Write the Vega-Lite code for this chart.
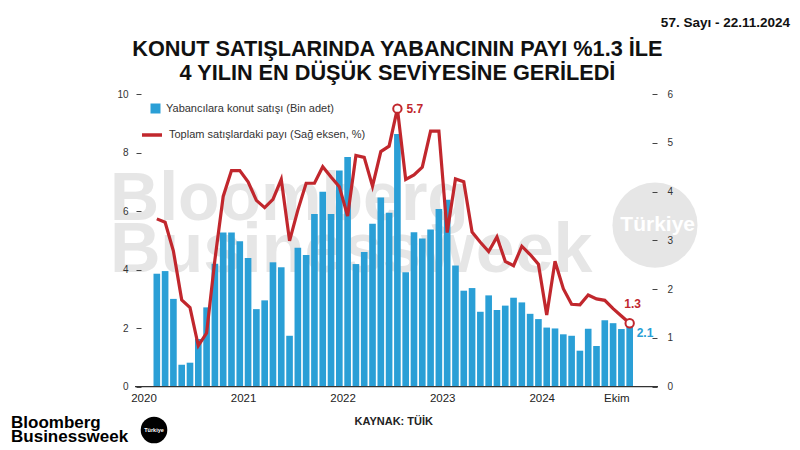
{
  "$schema": "https://vega.github.io/schema/vega-lite/v6.json",
  "width": 511,
  "height": 292.7,
  "autosize": {"type": "none"},
  "padding": {"left": 141, "top": 94, "right": 148, "bottom": 63.3},
  "background": "white",
  "config": {"view": {"stroke": null}, "font": "Liberation Sans"},
  "data": {"values": [
    {"m": "2020-01", "v": 3.86, "s": 3.44},
    {"m": "2020-02", "v": 3.95, "s": 3.37},
    {"m": "2020-03", "v": 3.0, "s": 2.78},
    {"m": "2020-04", "v": 0.75, "s": 1.78},
    {"m": "2020-05", "v": 0.82, "s": 1.62},
    {"m": "2020-06", "v": 1.63, "s": 0.84},
    {"m": "2020-07", "v": 2.71, "s": 1.1},
    {"m": "2020-08", "v": 4.2, "s": 2.6},
    {"m": "2020-09", "v": 5.27, "s": 3.9},
    {"m": "2020-10", "v": 5.27, "s": 4.43},
    {"m": "2020-11", "v": 4.97, "s": 4.43},
    {"m": "2020-12", "v": 4.4, "s": 4.2},
    {"m": "2021-01", "v": 2.65, "s": 3.82},
    {"m": "2021-02", "v": 2.95, "s": 3.67},
    {"m": "2021-03", "v": 4.25, "s": 3.84},
    {"m": "2021-04", "v": 4.08, "s": 4.25},
    {"m": "2021-05", "v": 1.74, "s": 2.99},
    {"m": "2021-06", "v": 4.75, "s": 3.62},
    {"m": "2021-07", "v": 4.5, "s": 4.17},
    {"m": "2021-08", "v": 5.9, "s": 4.17},
    {"m": "2021-09", "v": 6.66, "s": 4.51},
    {"m": "2021-10", "v": 5.9, "s": 4.3},
    {"m": "2021-11", "v": 7.39, "s": 4.1},
    {"m": "2021-12", "v": 7.85, "s": 3.5},
    {"m": "2022-01", "v": 4.19, "s": 4.74},
    {"m": "2022-02", "v": 4.6, "s": 4.7},
    {"m": "2022-03", "v": 5.57, "s": 4.11},
    {"m": "2022-04", "v": 6.46, "s": 4.82},
    {"m": "2022-05", "v": 5.94, "s": 4.93},
    {"m": "2022-06", "v": 8.63, "s": 5.7},
    {"m": "2022-07", "v": 3.91, "s": 4.25},
    {"m": "2022-08", "v": 5.28, "s": 4.34},
    {"m": "2022-09", "v": 5.06, "s": 4.5},
    {"m": "2022-10", "v": 5.37, "s": 5.24},
    {"m": "2022-11", "v": 6.07, "s": 5.24},
    {"m": "2022-12", "v": 6.39, "s": 3.16},
    {"m": "2023-01", "v": 4.14, "s": 4.26},
    {"m": "2023-02", "v": 3.28, "s": 4.2},
    {"m": "2023-03", "v": 3.37, "s": 3.17},
    {"m": "2023-04", "v": 2.56, "s": 2.96},
    {"m": "2023-05", "v": 3.12, "s": 2.77},
    {"m": "2023-06", "v": 2.62, "s": 3.07},
    {"m": "2023-07", "v": 2.77, "s": 2.57},
    {"m": "2023-08", "v": 3.04, "s": 2.48},
    {"m": "2023-09", "v": 2.88, "s": 2.88},
    {"m": "2023-10", "v": 2.49, "s": 2.71},
    {"m": "2023-11", "v": 2.31, "s": 2.51},
    {"m": "2023-12", "v": 2.02, "s": 1.47},
    {"m": "2024-01", "v": 1.99, "s": 2.57},
    {"m": "2024-02", "v": 1.79, "s": 2.01},
    {"m": "2024-03", "v": 1.74, "s": 1.69},
    {"m": "2024-04", "v": 1.23, "s": 1.68},
    {"m": "2024-05", "v": 1.98, "s": 1.88},
    {"m": "2024-06", "v": 1.39, "s": 1.8},
    {"m": "2024-07", "v": 2.27, "s": 1.77},
    {"m": "2024-08", "v": 2.17, "s": 1.6},
    {"m": "2024-09", "v": 1.97, "s": 1.45},
    {"m": "2024-10", "v": 2.1, "s": 1.3}
  ]},
  "layer": [
    {
      "layer": [
        {
          "data": {"values": [{}]},
          "mark": {"type": "text", "text": "Bloomberg", "align": "left", "baseline": "alphabetic", "dx": -46.8, "fontSize": 68, "fontWeight": "bold", "color": "#e6e6e6"},
          "encoding": {
            "x": {"datum": "2020-01", "type": "ordinal"},
            "y": {"datum": 5.7, "type": "quantitative", "scale": {"domain": [0, 10], "nice": false}, "axis": {"orient": "left", "values": [0, 2, 4, 6, 8, 10], "domain": false, "grid": false, "tickSize": 5, "tickColor": "#444", "labelFontSize": 10, "labelColor": "#333", "labelPadding": 8, "title": null, "zindex": 1}}
          }
        },
        {
          "data": {"values": [{}]},
          "mark": {"type": "text", "text": "Businessweek", "align": "left", "baseline": "alphabetic", "dx": -46.8, "fontSize": 70, "fontWeight": "bold", "color": "#e6e6e6"},
          "encoding": {
            "x": {"datum": "2020-01", "type": "ordinal"},
            "y": {"datum": 3.91, "type": "quantitative", "scale": {"domain": [0, 10], "nice": false}, "axis": {"orient": "left", "values": [0, 2, 4, 6, 8, 10], "domain": false, "grid": false, "tickSize": 5, "tickColor": "#444", "labelFontSize": 10, "labelColor": "#333", "labelPadding": 8, "title": null, "zindex": 1}}
          }
        },
        {
          "data": {"values": [{}]},
          "mark": {"type": "point", "shape": "circle", "filled": true, "size": 7238, "xOffset": 25.3, "color": "#e6e6e6", "opacity": 1},
          "encoding": {
            "x": {"datum": "2024-10", "type": "ordinal"},
            "y": {"datum": 5.52, "type": "quantitative", "scale": {"domain": [0, 10], "nice": false}, "axis": {"orient": "left", "values": [0, 2, 4, 6, 8, 10], "domain": false, "grid": false, "tickSize": 5, "tickColor": "#444", "labelFontSize": 10, "labelColor": "#333", "labelPadding": 8, "title": null, "zindex": 1}}
          }
        },
        {
          "data": {"values": [{}]},
          "mark": {"type": "text", "text": "Türkiye", "align": "center", "baseline": "middle", "dx": 28, "fontSize": 21, "fontWeight": "bold", "color": "white"},
          "encoding": {
            "x": {"datum": "2024-10", "type": "ordinal"},
            "y": {"datum": 5.52, "type": "quantitative", "scale": {"domain": [0, 10], "nice": false}, "axis": {"orient": "left", "values": [0, 2, 4, 6, 8, 10], "domain": false, "grid": false, "tickSize": 5, "tickColor": "#444", "labelFontSize": 10, "labelColor": "#333", "labelPadding": 8, "title": null, "zindex": 1}}
          }
        },
        {
          "mark": {"type": "bar"},
          "encoding": {
            "x": {
              "field": "m", "type": "ordinal",
              "scale": {"type": "band", "range": [12.5, 492], "paddingInner": 0.2, "paddingOuter": 0},
              "axis": {
                "title": "KAYNAK: TÜİK", "titleFontSize": 11, "titleFontWeight": "bold", "titleColor": "#222", "titlePadding": 11,
                "labelExpr": "slice(datum.value, 5) == '01' ? slice(datum.value, 0, 4) : (datum.value == '2024-10' ? 'Ekim' : '')",
                "labelAngle": 0, "labelFontSize": 11.5, "labelColor": "#222", "labelPadding": 12,
                "ticks": false, "domain": false, "zindex": 1
              }
            },
            "y": {
              "field": "v", "type": "quantitative",
              "scale": {"domain": [0, 10], "nice": false},
              "axis": {"orient": "left", "values": [0, 2, 4, 6, 8, 10], "domain": false, "grid": false, "tickSize": 5, "tickColor": "#444", "labelFontSize": 10, "labelColor": "#333", "labelPadding": 8, "title": null, "zindex": 1}
            },
            "color": {
              "datum": "Yabancılara konut satışı (Bin adet)", "type": "nominal",
              "scale": {"range": ["#2a9fd6"]},
              "legend": {"orient": "none", "legendX": 9, "legendY": 9, "title": null, "symbolType": "square", "symbolSize": 100, "symbolStrokeWidth": 0, "labelFontSize": 11, "labelColor": "#333", "labelOffset": 5, "labelLimit": 0, "padding": 0}
            }
          }
        },
        {
          "data": {"values": [{}]},
          "mark": {"type": "rule", "color": "#333", "strokeWidth": 1.2, "xOffset": -21.8, "x2Offset": 28.3},
          "encoding": {
            "x": {"datum": "2020-01", "type": "ordinal"},
            "x2": {"datum": "2024-10"},
            "y": {"datum": 0, "type": "quantitative", "scale": {"domain": [0, 10], "nice": false}, "axis": {"orient": "left", "values": [0, 2, 4, 6, 8, 10], "domain": false, "grid": false, "tickSize": 5, "tickColor": "#444", "labelFontSize": 10, "labelColor": "#333", "labelPadding": 8, "title": null, "zindex": 1}}
          }
        },
        {
          "transform": [{"filter": "datum.m == '2024-10'"}],
          "mark": {"type": "text", "align": "left", "baseline": "middle", "dx": 7, "dy": 8, "fontSize": 12, "fontWeight": "bold", "color": "#2a9fd6"},
          "encoding": {
            "x": {"field": "m", "type": "ordinal"},
            "y": {"field": "v", "type": "quantitative", "scale": {"domain": [0, 10], "nice": false}, "axis": {"orient": "left", "values": [0, 2, 4, 6, 8, 10], "domain": false, "grid": false, "tickSize": 5, "tickColor": "#444", "labelFontSize": 10, "labelColor": "#333", "labelPadding": 8, "title": null, "zindex": 1}},
            "text": {"field": "v", "type": "quantitative", "format": ".1f"}
          }
        },
        {
          "data": {"values": [{}]},
          "mark": {"type": "text", "text": "KONUT SATIŞLARINDA YABANCININ PAYI %1.3 İLE", "align": "center", "baseline": "alphabetic", "fontSize": 21.7, "fontWeight": "bold", "color": "#111"},
          "encoding": {
            "x": {"datum": "2022-06", "type": "ordinal"},
            "y": {"datum": 11.3, "type": "quantitative", "scale": {"domain": [0, 10], "nice": false}, "axis": {"orient": "left", "values": [0, 2, 4, 6, 8, 10], "domain": false, "grid": false, "tickSize": 5, "tickColor": "#444", "labelFontSize": 10, "labelColor": "#333", "labelPadding": 8, "title": null, "zindex": 1}}
          }
        },
        {
          "data": {"values": [{}]},
          "mark": {"type": "text", "text": "4 YILIN EN DÜŞÜK SEVİYESİNE GERİLEDİ", "align": "center", "baseline": "alphabetic", "fontSize": 21.7, "fontWeight": "bold", "color": "#111"},
          "encoding": {
            "x": {"datum": "2022-06", "type": "ordinal"},
            "y": {"datum": 10.48, "type": "quantitative", "scale": {"domain": [0, 10], "nice": false}, "axis": {"orient": "left", "values": [0, 2, 4, 6, 8, 10], "domain": false, "grid": false, "tickSize": 5, "tickColor": "#444", "labelFontSize": 10, "labelColor": "#333", "labelPadding": 8, "title": null, "zindex": 1}}
          }
        },
        {
          "data": {"values": [{}]},
          "mark": {"type": "text", "text": "57. Sayı - 22.11.2024", "align": "right", "baseline": "alphabetic", "dx": 160.3, "fontSize": 13.5, "fontWeight": "bold", "color": "#111"},
          "encoding": {
            "x": {"datum": "2024-10", "type": "ordinal"},
            "y": {"datum": 12.29, "type": "quantitative", "scale": {"domain": [0, 10], "nice": false}, "axis": {"orient": "left", "values": [0, 2, 4, 6, 8, 10], "domain": false, "grid": false, "tickSize": 5, "tickColor": "#444", "labelFontSize": 10, "labelColor": "#333", "labelPadding": 8, "title": null, "zindex": 1}}
          }
        },
        {
          "data": {"values": [{}]},
          "mark": {"type": "text", "text": "Bloomberg", "align": "left", "baseline": "alphabetic", "dx": -145.8, "fontSize": 17, "fontWeight": "bold", "color": "#000"},
          "encoding": {
            "x": {"datum": "2020-01", "type": "ordinal"},
            "y": {"datum": -1.4, "type": "quantitative", "scale": {"domain": [0, 10], "nice": false}, "axis": {"orient": "left", "values": [0, 2, 4, 6, 8, 10], "domain": false, "grid": false, "tickSize": 5, "tickColor": "#444", "labelFontSize": 10, "labelColor": "#333", "labelPadding": 8, "title": null, "zindex": 1}}
          }
        },
        {
          "data": {"values": [{}]},
          "mark": {"type": "text", "text": "Businessweek", "align": "left", "baseline": "alphabetic", "dx": -145.8, "fontSize": 17, "fontWeight": "bold", "color": "#000"},
          "encoding": {
            "x": {"datum": "2020-01", "type": "ordinal"},
            "y": {"datum": -1.9, "type": "quantitative", "scale": {"domain": [0, 10], "nice": false}, "axis": {"orient": "left", "values": [0, 2, 4, 6, 8, 10], "domain": false, "grid": false, "tickSize": 5, "tickColor": "#444", "labelFontSize": 10, "labelColor": "#333", "labelPadding": 8, "title": null, "zindex": 1}}
          }
        },
        {
          "data": {"values": [{}]},
          "mark": {"type": "point", "shape": "circle", "filled": true, "size": 707, "xOffset": -2.8, "color": "#000", "opacity": 1},
          "encoding": {
            "x": {"datum": "2020-01", "type": "ordinal"},
            "y": {"datum": -1.48, "type": "quantitative", "scale": {"domain": [0, 10], "nice": false}, "axis": {"orient": "left", "values": [0, 2, 4, 6, 8, 10], "domain": false, "grid": false, "tickSize": 5, "tickColor": "#444", "labelFontSize": 10, "labelColor": "#333", "labelPadding": 8, "title": null, "zindex": 1}}
          }
        },
        {
          "data": {"values": [{}]},
          "mark": {"type": "text", "text": "Türkiye", "align": "center", "baseline": "middle", "dx": -2.8, "fontSize": 5.5, "fontWeight": "bold", "color": "white"},
          "encoding": {
            "x": {"datum": "2020-01", "type": "ordinal"},
            "y": {"datum": -1.48, "type": "quantitative", "scale": {"domain": [0, 10], "nice": false}, "axis": {"orient": "left", "values": [0, 2, 4, 6, 8, 10], "domain": false, "grid": false, "tickSize": 5, "tickColor": "#444", "labelFontSize": 10, "labelColor": "#333", "labelPadding": 8, "title": null, "zindex": 1}}
          }
        }
      ]
    },
    {
      "layer": [
        {
          "mark": {"type": "line", "strokeWidth": 3.2, "strokeJoin": "miter"},
          "encoding": {
            "x": {"field": "m", "type": "ordinal"},
            "y": {
              "field": "s", "type": "quantitative",
              "scale": {"domain": [0, 6], "nice": false},
              "axis": {"orient": "right", "values": [0, 1, 2, 3, 4, 5, 6], "domain": false, "grid": false, "tickSize": 5, "tickColor": "#444", "labelFontSize": 10, "labelColor": "#333", "labelPadding": 10, "title": null, "zindex": 1}
            },
            "stroke": {
              "datum": "Toplam satışlardaki payı (Sağ eksen, %)", "type": "nominal",
              "scale": {"range": ["#c1272d"]},
              "legend": {"orient": "none", "legendX": -1, "legendY": 29, "title": null, "symbolType": "stroke", "symbolSize": 400, "symbolStrokeWidth": 3.5, "labelFontSize": 11, "labelColor": "#333", "labelOffset": 5, "labelLimit": 0, "padding": 0}
            }
          }
        },
        {
          "transform": [{"filter": "datum.m == '2022-06' || datum.m == '2024-10'"}],
          "mark": {"type": "point", "shape": "circle", "filled": true, "fill": "white", "stroke": "#c1272d", "strokeWidth": 2, "size": 70, "opacity": 1},
          "encoding": {
            "x": {"field": "m", "type": "ordinal"},
            "y": {"field": "s", "type": "quantitative", "scale": {"domain": [0, 6], "nice": false}, "axis": {"orient": "right", "values": [0, 1, 2, 3, 4, 5, 6], "domain": false, "grid": false, "tickSize": 5, "tickColor": "#444", "labelFontSize": 10, "labelColor": "#333", "labelPadding": 10, "title": null, "zindex": 1}}
          }
        },
        {
          "transform": [{"filter": "datum.m == '2022-06'"}],
          "mark": {"type": "text", "align": "left", "baseline": "middle", "dx": 9, "fontSize": 12, "fontWeight": "bold", "color": "#c1272d"},
          "encoding": {
            "x": {"field": "m", "type": "ordinal"},
            "y": {"field": "s", "type": "quantitative", "scale": {"domain": [0, 6], "nice": false}, "axis": {"orient": "right", "values": [0, 1, 2, 3, 4, 5, 6], "domain": false, "grid": false, "tickSize": 5, "tickColor": "#444", "labelFontSize": 10, "labelColor": "#333", "labelPadding": 10, "title": null, "zindex": 1}},
            "text": {"field": "s", "type": "quantitative", "format": ".1f"}
          }
        },
        {
          "transform": [{"filter": "datum.m == '2024-10'"}],
          "mark": {"type": "text", "align": "center", "baseline": "middle", "dx": 3, "dy": -19, "fontSize": 12, "fontWeight": "bold", "color": "#c1272d"},
          "encoding": {
            "x": {"field": "m", "type": "ordinal"},
            "y": {"field": "s", "type": "quantitative", "scale": {"domain": [0, 6], "nice": false}, "axis": {"orient": "right", "values": [0, 1, 2, 3, 4, 5, 6], "domain": false, "grid": false, "tickSize": 5, "tickColor": "#444", "labelFontSize": 10, "labelColor": "#333", "labelPadding": 10, "title": null, "zindex": 1}},
            "text": {"field": "s", "type": "quantitative", "format": ".1f"}
          }
        }
      ]
    }
  ],
  "resolve": {"scale": {"y": "independent"}}
}
